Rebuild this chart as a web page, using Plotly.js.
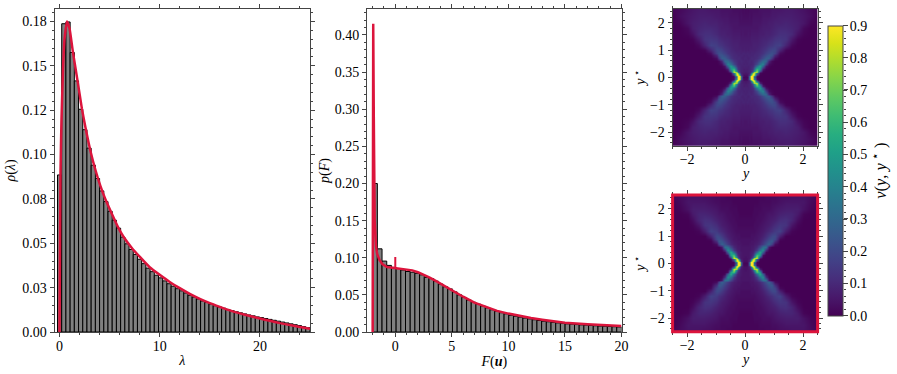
<!DOCTYPE html>
<html>
<head>
<meta charset="utf-8">
<script src="https://cdn.plot.ly/plotly-3.0.1.min.js"></script>
<style>html,body{margin:0;padding:0;background:#fff}</style>
</head>
<body>
<div id="chart" style="width:897px;height:374px"></div>
<script>
// ---------- left panel: spectrum histogram + theory curve ----------
const lambdaBinStart = -0.2, lambdaBinWidth = 0.42;
const lambdaBars = [.0885,.1737,.1747,.1575,.1415,.1255,.114,.1036,.094,.0865,.0795,.0735,.068,.063,.0585,.0535,.0497,.0465,.0437,.041,.0385,.036,.034,.032,.0305,.0288,.0272,.0258,.0244,.0232,.022,.0207,.0197,.0186,.0175,.0166,.0157,.0148,.0141,.0134,.0127,.012,.0114,.0108,.0102,.0096,.0091,.0085,.0081,.0076,.0071,.0066,.0061,.0056,.0051,.0046,.0041,.0036,.003,.0024];
const lambdaCurveX = [0,.03,.1,.2,.35,.5,.75,1,1.33,1.8,2.23,2.6,3.13,3.6,4.07,4.6,5.23,5.8,6.4,7.2,8.07,9,10,11,12,13,14,15,16,17,18,19,20,21,22,23,24,25];
const lambdaCurveY = [0,.03,.09,.12,.148,.165,.175,.171,.158,.1415,.126,.115,.101,.091,.0825,.0745,.0665,.0595,.0535,.0475,.042,.0365,.0322,.0282,.0247,.0215,.0187,.0163,.0142,.0122,.0105,.009,.0076,.0063,.005,.0039,.0028,.0018];

// ---------- middle panel: output histogram + theory curve ----------
const fBinStart = -2, fBinWidth = 0.415;
const fBars = [.2,.112,.0955,.0897,.087,.0855,.0835,.0815,.0805,.079,.077,.0735,.072,.0685,.0645,.061,.058,.054,.05,.0465,.043,.04,.0375,.035,.0325,.03,.028,.026,.0245,.0225,.0212,.02,.0188,.0177,.0165,.0155,.0145,.0138,.013,.0123,.0117,.011,.0105,.01,.0096,.0092,.0088,.0084,.008,.0077,.0074,.0071,.0068];
const fCurveX = [-2,-1.96,-1.95,-1.9,-1.82,-1.7,-1.6,-1.4,-1.15,-.73,-.15,.5,1,1.5,2,2.5,3,3.5,4,5,6,7,8,9,10,11,12,13,14,15,17,20];
const fCurveY = [0,.2,.415,.29,.15,.115,.105,.097,.0915,.0875,.0862,.0855,.0845,.083,.0805,.0775,.0735,.0695,.065,.0567,.0475,.0395,.0335,.0285,.0248,.0215,.0188,.0166,.0144,.0125,.0105,.008];
const fSpikeX = [0,0];
const fSpikeY = [.086,.101];

// ---------- heat maps: one quadrant, rows from y*=0 upward ----------
const heatGrid = [0,.05,.1,.15,.2,.25,.3,.4,.5,.6,.7,.8,.9,1,1.2,1.4,1.6,1.8,2,2.25,2.5];
const dataRows = [
[.02,.01,.03,.4,.98,1,.35,.02],
[.02,.03,.05,.35,.9,1,.5,.03],
[.04,.03,.06,.15,.6,1,.85,.12],
[.05,.06,.06,.1,.25,.75,.95,.3,.02],
[.06,.07,.07,.09,.14,.35,.75,.8,.1,.01],
[.07,.07,.08,.09,.11,.2,.4,.78,.25,.02],
[.08,.07,.08,.09,.1,.14,.26,.62,.45,.07,.01],
[.08,.09,.08,.09,.1,.11,.15,.34,.5,.28,.05,.01],
[.09,.08,.09,.09,.09,.1,.12,.19,.33,.4,.17,.03,.01],
[.08,.09,.09,.1,.09,.1,.11,.14,.22,.31,.3,.09,.02],
[.09,.09,.08,.09,.1,.1,.1,.11,.14,.2,.26,.26,.14,.03],
[.09,.08,.09,.09,.09,.09,.1,.1,.12,.16,.2,.24,.22,.1,.01],
[.08,.09,.09,.08,.09,.09,.09,.1,.11,.13,.17,.2,.22,.18,.03],
[.07,.08,.07,.08,.08,.08,.08,.09,.1,.12,.14,.17,.19,.19,.09,.01],
[.07,.07,.07,.07,.07,.08,.08,.08,.09,.1,.11,.13,.14,.16,.17,.09,.02],
[.06,.06,.06,.06,.07,.07,.07,.07,.08,.09,.09,.1,.11,.13,.14,.13,.06,.01],
[.05,.05,.06,.05,.06,.06,.06,.06,.07,.07,.08,.08,.09,.1,.12,.12,.1,.04,.01],
[.05,.05,.05,.05,.05,.05,.05,.05,.06,.07,.07,.07,.08,.09,.1,.1,.09,.07,.02],
[.04,.04,.04,.04,.04,.05,.05,.05,.05,.06,.06,.07,.07,.08,.08,.09,.08,.07,.05,.01],
[.03,.03,.03,.04,.03,.04,.04,.04,.04,.05,.05,.05,.06,.06,.07,.07,.07,.06,.05,.03],
[.02,.03,.02,.03,.03,.03,.03,.03,.04,.04,.04,.04,.05,.05,.05,.06,.06,.05,.04,.02,.01]
];
const modelRows = [
[.01,.01,.03,.38,.98,1,.3,.01],
[.02,.02,.04,.3,.9,1,.45,.01],
[.03,.03,.05,.12,.6,1,.85,.1],
[.04,.04,.05,.08,.22,.75,.95,.25,.01],
[.04,.04,.05,.06,.11,.32,.75,.85,.08],
[.04,.05,.05,.06,.08,.17,.38,.8,.22,.01],
[.05,.05,.05,.06,.07,.11,.2,.65,.5,.03],
[.05,.05,.05,.06,.07,.08,.11,.3,.55,.28,.02],
[.05,.05,.05,.05,.06,.07,.08,.15,.33,.44,.12,.01],
[.05,.05,.05,.05,.06,.06,.07,.1,.19,.33,.33,.05],
[.04,.04,.04,.05,.05,.05,.06,.07,.1,.15,.22,.28,.17,.03],
[.04,.04,.04,.04,.05,.05,.05,.06,.08,.12,.17,.23,.25,.12],
[.04,.04,.04,.04,.04,.04,.05,.05,.07,.1,.14,.19,.22,.19,.02],
[.03,.03,.03,.03,.04,.04,.04,.05,.06,.08,.11,.15,.19,.2,.08],
[.03,.03,.03,.03,.03,.03,.03,.04,.05,.06,.08,.1,.12,.15,.17,.07,.01],
[.02,.02,.02,.02,.02,.02,.03,.03,.04,.05,.06,.07,.09,.11,.14,.13,.05,.01],
[.02,.02,.02,.02,.02,.02,.02,.03,.03,.04,.05,.06,.07,.08,.11,.12,.09,.03],
[.01,.01,.01,.01,.01,.02,.02,.02,.03,.03,.04,.05,.05,.06,.08,.09,.09,.06,.01],
[.01,.01,.01,.01,.01,.01,.02,.02,.02,.03,.03,.03,.04,.05,.06,.07,.07,.07,.04,.01],
[.01,.01,.01,.01,.01,.01,.01,.01,.02,.02,.02,.02,.03,.03,.04,.05,.05,.05,.05,.02],
[.01,.01,.01,.01,.01,.01,.01,.01,.01,.01,.02,.02,.02,.02,.03,.03,.04,.04,.04,.03,.01]
];

// ---------- text ----------
const lambdaXTicks = [0,10,20], fXTicks = [0,5,10,15,20], heatXTicks = [-2,0,2], heatYTicks = [-2,-1,0,1,2];
const lambdaYTicks = [0,.025,.05,.075,.1,.125,.15,.175];
const lambdaYText = ['0.00','0.03','0.05','0.08','0.10','0.12','0.15','0.18'];
const fYTicks = [0,.05,.1,.15,.2,.25,.3,.35,.4];
const fYText = ['0.00','0.05','0.10','0.15','0.20','0.25','0.30','0.35','0.40'];

// ---------- helpers ----------
const W = 897, H = 374;
const fx = p => p / W, fy = p => 1 - p / H;
const centers = (start, w, arr) => arr.map((_, i) => start + w * (i + .5));
const SERIF = '"Liberation Serif", serif';
const DARK = '#444', RED = '#DC143C';
const fullGrid = heatGrid.slice(1).reverse().map(v => -v).concat(heatGrid);
function fullMatrix(rows) {
  const n = heatGrid.length;
  const padded = rows.map(r => r.concat(new Array(n - r.length).fill(0)));
  const mirrored = padded.map(r => r.slice(1).reverse().concat(r));
  return mirrored.slice(1).reverse().concat(mirrored);
}
function axis(dom, range, vals, text, minor, title, standoff, anchor, labelGap) {
  return {
    domain: dom, range: range, anchor: anchor, showgrid: false, zeroline: false,
    showline: true, linecolor: DARK, linewidth: 1, mirror: 'ticks',
    ticks: 'outside', ticklen: 4, tickwidth: 1, tickcolor: DARK, ticklabelstandoff: labelGap || 0,
    tickmode: 'array', tickvals: vals, ticktext: text,
    minor: {dtick: minor, tick0: 0, ticks: 'outside', ticklen: 2, tickwidth: 1, tickcolor: DARK, showgrid: false},
    tickfont: {family: SERIF, size: 14, color: '#000'},
    title: title ? {text: title, font: {family: SERIF, size: 14, color: '#000'}, standoff: standoff} : undefined,
    automargin: false
  };
}
const xL = [fx(54.5), fx(310)], xM = [fx(367), fx(621.5)], xH = [fx(672.6), fx(817.6)], xC = [fx(828), fx(842.7)];
const yMain = [fy(332), fy(9)], yT = [fy(145.7), fy(9)], yB = [fy(331.7), fy(195)], yC = [fy(315.7), fy(25.3)];
const minusText = v => v < 0 ? '−' + (-v) : String(v);

const heatCommon = {type: 'heatmap', x: fullGrid, y: fullGrid, zmin: 0, zmax: .9, zsmooth: 'best', colorscale: 'Viridis'};
const traces = [
  {type: 'bar', xaxis: 'x', yaxis: 'y', x: centers(lambdaBinStart, lambdaBinWidth, lambdaBars), y: lambdaBars, width: lambdaBinWidth,
   marker: {color: '#808080', line: {color: '#000', width: 1}}},
  {type: 'scatter', mode: 'lines', xaxis: 'x', yaxis: 'y', x: lambdaCurveX, y: lambdaCurveY, line: {color: RED, width: 2.5, shape: 'spline', smoothing: .5}},
  {type: 'bar', xaxis: 'x2', yaxis: 'y2', x: centers(fBinStart, fBinWidth, fBars), y: fBars, width: fBinWidth,
   marker: {color: '#808080', line: {color: '#000', width: 1}}},
  {type: 'scatter', mode: 'lines', xaxis: 'x2', yaxis: 'y2', x: fCurveX, y: fCurveY, line: {color: RED, width: 2.5}},
  {type: 'scatter', mode: 'lines', xaxis: 'x2', yaxis: 'y2', x: fSpikeX, y: fSpikeY, line: {color: RED, width: 2}},
  Object.assign({}, heatCommon, {xaxis: 'x3', yaxis: 'y3', z: fullMatrix(dataRows), showscale: false}),
  Object.assign({}, heatCommon, {xaxis: 'x4', yaxis: 'y4', z: fullMatrix(modelRows), showscale: true,
    colorbar: {x: fx(828), xanchor: 'left', y: yC[0], yanchor: 'bottom', len: yC[1] - yC[0], lenmode: 'fraction',
      thickness: 14.7, thicknessmode: 'pixels', outlinewidth: 1, outlinecolor: DARK, xpad: 0, ypad: 0,
      ticks: 'outside', ticklen: 4, tickwidth: 1, tickcolor: DARK, tick0: 0, dtick: .1, tickformat: '.1f',
      tickfont: {family: SERIF, size: 14, color: '#000'},
      title: {text: '<i>ν</i>(<i>y</i>, <i>y</i><sup> ⋆</sup> )', side: 'right', font: {family: SERIF, size: 16.5, color: '#000'}}}}),
  {type: 'scatter', mode: 'lines', xaxis: 'x5', yaxis: 'y5', x: [null], y: [null], hoverinfo: 'skip'}
];
const layout = {
  width: W, height: H, margin: {l: 0, r: 0, t: 0, b: 0}, paper_bgcolor: '#fff', plot_bgcolor: '#fff',
  showlegend: false, barmode: 'overlay', font: {family: SERIF},
  xaxis: axis(xL, [-.5, 25], lambdaXTicks, lambdaXTicks.map(String), 2, '<i>λ</i>', 2, 'y', -3),
  yaxis: axis(yMain, [0, .182], lambdaYTicks, lambdaYText, .005, '<i>ρ</i>(<i>λ</i>)', 3, 'x'),
  xaxis2: axis(xM, [-2.5, 20], fXTicks, fXTicks.map(String), 1, '<i>F</i>(<b><i>u</i></b>)', 2, 'y2', -3),
  yaxis2: axis(yMain, [0, .435], fYTicks, fYText, .01, '<i>p</i>(<i>F</i>)', 1, 'x2'),
  xaxis3: axis(xH, [-2.5, 2.5], heatXTicks, heatXTicks.map(minusText), .5, '', 0, 'y3', -4),
  yaxis3: axis(yT, [-2.5, 2.5], heatYTicks, heatYTicks.map(minusText), .2, '<i>y</i><sup> ⋆</sup>', 0, 'x3'),
  xaxis4: axis(xH, [-2.5, 2.5], heatXTicks, heatXTicks.map(minusText), .5, '', 0, 'y4', -4),
  yaxis4: axis(yB, [-2.5, 2.5], heatYTicks, heatYTicks.map(minusText), .2, '<i>y</i><sup> ⋆</sup>', 0, 'x4'),
  xaxis5: {domain: xC, range: [0, 1], anchor: 'y5', visible: false, fixedrange: true},
  yaxis5: {domain: yC, range: [0, .9], anchor: 'x5', side: 'right', showgrid: false, zeroline: false, showline: false, showticklabels: false,
    ticks: 'outside', ticklen: 4, tickcolor: DARK, dtick: .1,
    minor: {dtick: .02, tick0: 0, ticks: 'outside', ticklen: 2, tickwidth: 1, tickcolor: DARK, showgrid: false}},
  annotations: [
    {xref: 'paper', yref: 'paper', x: fx(745), y: fy(173), xanchor: 'center', yanchor: 'middle', borderpad: 0, text: '<i>y</i>', showarrow: false, font: {family: SERIF, size: 14, color: '#000'}},
    {xref: 'paper', yref: 'paper', x: fx(745), y: fy(359), xanchor: 'center', yanchor: 'middle', borderpad: 0, text: '<i>y</i>', showarrow: false, font: {family: SERIF, size: 14, color: '#000'}}
  ],
  shapes: [{type: 'rect', xref: 'paper', yref: 'paper', x0: xH[0], x1: xH[1], y0: yB[0], y1: yB[1],
    line: {color: RED, width: 3}, fillcolor: 'rgba(0,0,0,0)', layer: 'above'}]
};
Plotly.newPlot('chart', traces, layout, {staticPlot: true, displayModeBar: false});
</script>
</body>
</html>
